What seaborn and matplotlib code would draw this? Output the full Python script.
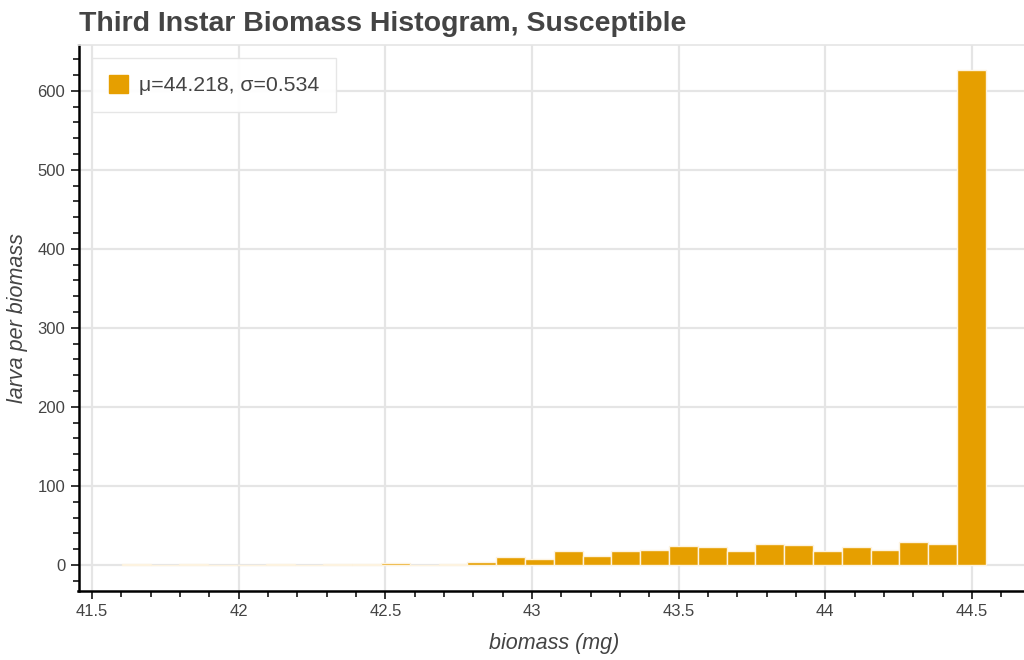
import numpy as np
import pandas as pd
import matplotlib
matplotlib.use("Agg")
import matplotlib.pyplot as plt
from matplotlib.ticker import MultipleLocator
from matplotlib.patches import Patch
import seaborn as sns

# Histogram of third instar biomass (susceptible larvae)
bin_start = 41.601
bin_stop = 44.547
n_bins = 30
counts = [1, 0, 1, 0, 0, 1, 0, 1, 1, 2,
          0, 1, 4, 10, 7, 18, 11, 17, 19, 24,
          23, 18, 27, 25, 17, 23, 19, 29, 27, 626]
mu = 44.218
sigma = 0.534

title = "Third Instar Biomass Histogram, Susceptible"
x_label = "biomass (mg)"
y_label = "larva per biomass"
x_ticks = [41.5, 42, 42.5, 43, 43.5, 44, 44.5]
x_tick_labels = ["41.5", "42", "42.5", "43", "43.5", "44", "44.5"]
y_ticks = [0, 100, 200, 300, 400, 500, 600]

edges = [float(e) for e in np.linspace(bin_start, bin_stop, n_bins + 1)]
centers = [(a + b) / 2 for a, b in zip(edges[:-1], edges[1:])]
df = pd.DataFrame({"biomass": centers, "count": [float(c) for c in counts]})

sns.set_style("white")
plt.rcParams["font.family"] = ["Liberation Sans", "DejaVu Sans"]

TEXT = "#444444"
GRID = "#e5e5e5"
BAR = "#E69F00"

W, H = 1024, 660
fig = plt.figure(figsize=(W / 100, H / 100), dpi=100)
left, right, top, bottom = 78.5, 1029, 45, 591
ax = fig.add_axes([left / W, 1 - bottom / H, (right - left) / W, (bottom - top) / H])

sns.histplot(data=df, x="biomass", weights="count", bins=edges,
             color=BAR, alpha=1, edgecolor="#fdf3e0", linewidth=1.0, ax=ax)

span = bin_stop - bin_start
ax.set_xlim(bin_start - 0.05 * span, bin_stop + 0.05 * span)
ax.set_ylim(-33, 658)

ax.set_xticks(x_ticks)
ax.set_xticklabels(x_tick_labels)
ax.set_yticks(y_ticks)
ax.xaxis.set_minor_locator(MultipleLocator(0.1))
ax.yaxis.set_minor_locator(MultipleLocator(20))

ax.grid(True, which="major", color=GRID, linewidth=1.6)
ax.set_axisbelow(True)

for side in ("left", "bottom"):
    ax.spines[side].set_color("black")
    ax.spines[side].set_linewidth(1.8)
ax.spines["top"].set_color(GRID)
ax.spines["top"].set_linewidth(1.2)
ax.spines["right"].set_visible(False)

ax.tick_params(axis="both", which="major", direction="out", length=6,
               width=1.1, color="black", labelsize=12, labelcolor=TEXT, pad=3.5)
ax.tick_params(axis="both", which="minor", direction="out", length=4,
               width=1.1, color="black")
ax.tick_params(axis="x", which="both", bottom=True)
ax.tick_params(axis="y", which="both", left=True)

ax.set_xlabel("")
ax.set_ylabel("")
fig.text((left + 1029) / 2 / W, 1 - 644 / H, x_label, ha="center", va="center",
         fontsize=15.5, style="italic", color=TEXT)
fig.text(18 / W, 1 - 318 / H, y_label, ha="center", va="center", rotation=90,
         fontsize=15.5, style="italic", color=TEXT)
fig.text(79 / W, 1 - 31 / H, title, ha="left", va="baseline",
         fontsize=20.5, fontweight="bold", color=TEXT)

handle = Patch(facecolor=BAR, edgecolor=BAR)
leg = ax.legend([handle], [f"\u03bc={mu}, \u03c3={sigma}"], loc="upper left",
                bbox_to_anchor=(13.5 / (right - left), 1 - 13 / (bottom - top)),
                fontsize=15.3, frameon=True, fancybox=False, borderpad=0.8,
                handlelength=0.9, handleheight=0.9, handletextpad=0.5,
                borderaxespad=0, labelcolor=TEXT)
leg.get_frame().set_edgecolor(GRID)
leg.get_frame().set_linewidth(1.0)
leg.get_frame().set_alpha(0.95)

fig.savefig("out.png", dpi=100)
